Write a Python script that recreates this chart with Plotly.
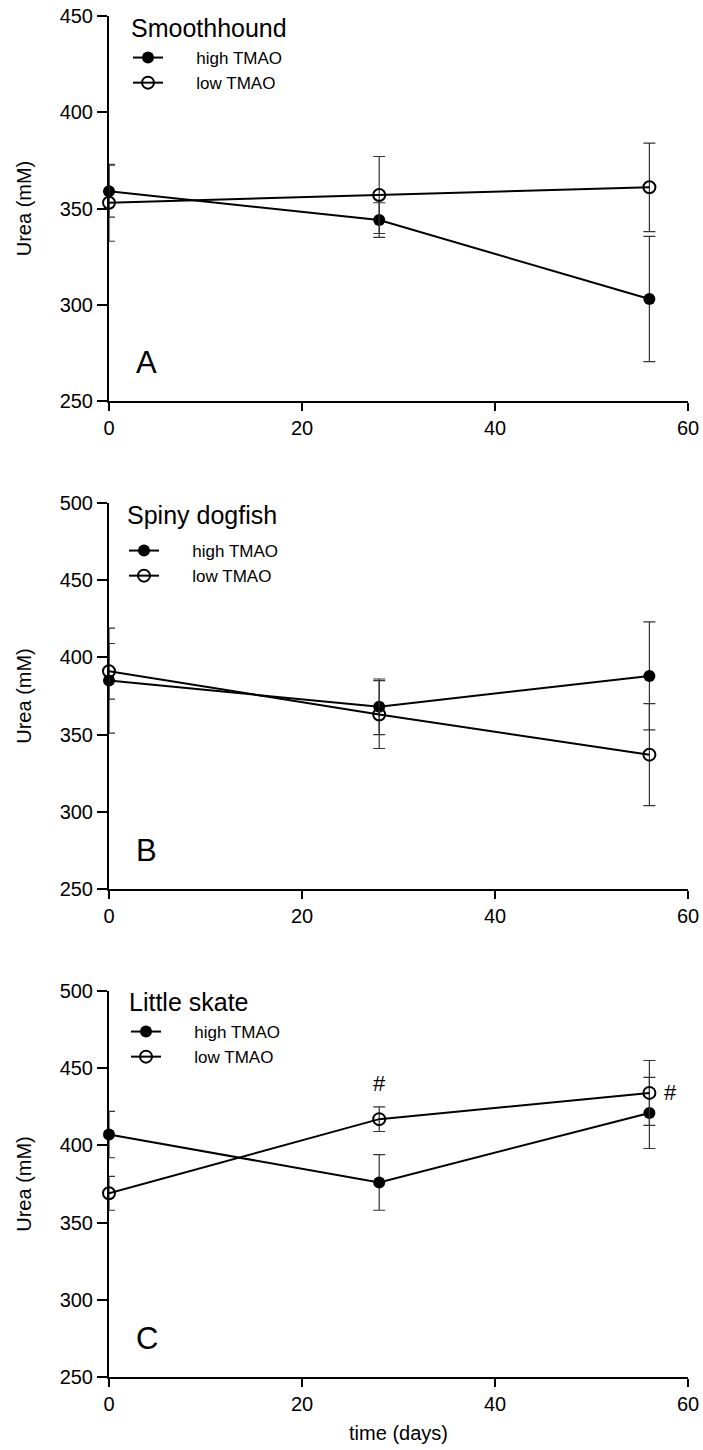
import plotly.graph_objects as go

# ---------------- data ----------------
days = [0, 28, 56]

smooth_high = [359, 344, 303]
smooth_high_err = [13.5, 9, 32.5]
smooth_low = [353, 357, 361]
smooth_low_err = [20, 20, 23]

dogfish_high = [385, 368, 388]
dogfish_high_err = [34, 18, 35]
dogfish_low = [391, 363, 337]
dogfish_low_err = [18, 22, 33]

skate_high = [407, 376, 421]
skate_high_err = [15, 18, 23]
skate_low = [369, 417, 434]
skate_low_err = [11, 8, 21]

species = ["Smoothhound", "Spiny dogfish", "Little skate"]
panel_letters = ["A", "B", "C"]
series_names = ["high TMAO", "low TMAO"]
y_ranges = [[250, 450], [250, 500], [250, 500]]
x_ticks = [0, 20, 40, 60]

# ---------------- layout helpers ----------------
W, H = 703, 1450
ML, MR, MT, MB = 109, 15, 16, 1450 - 1377
PW, PH = W - ML - MR, H - MT - MB


def py(ypx):
    """pixel y -> paper fraction"""
    return (H - MB - ypx) / PH


def pxx(xpx):
    """pixel x -> paper fraction"""
    return (xpx - ML) / PW


FONT = "Liberation Sans, Arial, sans-serif"
domains = [[py(401), py(16)], [py(889), py(503)], [py(1377), py(991)]]
title_pos = [(129, 28), (125, 515), (127, 1002)]
legend_pos = [(128, 40), (124, 533), (126, 1014)]

panels = [
    (smooth_high, smooth_high_err, smooth_low, smooth_low_err),
    (dogfish_high, dogfish_high_err, dogfish_low, dogfish_low_err),
    (skate_high, skate_high_err, skate_low, skate_low_err),
]

fig = go.Figure()
pad = "\u00a0" * 6

for i, (hi, hie, lo, loe) in enumerate(panels):
    sfx = "" if i == 0 else str(i + 1)
    leg = "legend" + sfx
    err_style = dict(type="data", color="#333333", thickness=1.2, width=6, visible=True)
    fig.add_trace(go.Scatter(
        x=days, y=hi, name=pad + series_names[0], mode="lines+markers",
        line=dict(color="black", width=2),
        marker=dict(symbol="circle", size=12, color="black"),
        error_y=dict(array=hie, **err_style),
        xaxis="x" + sfx, yaxis="y" + sfx, legend=leg, cliponaxis=False,
    ))
    fig.add_trace(go.Scatter(
        x=days, y=lo, name=pad + series_names[1], mode="lines+markers",
        line=dict(color="black", width=2),
        marker=dict(symbol="circle-open", size=12, color="black", line=dict(width=2, color="black")),
        error_y=dict(array=loe, **err_style),
        xaxis="x" + sfx, yaxis="y" + sfx, legend=leg, cliponaxis=False,
    ))

    axis_common = dict(showline=True, linewidth=2, linecolor="black", ticks="outside",
                       tickwidth=2, tickcolor="black", showgrid=False, zeroline=False,
                       automargin=False, ticklabeloverflow="allow",
                       tickfont=dict(family=FONT, size=20, color="black"))
    xa = dict(axis_common, range=[0, 60], tickvals=x_ticks, ticklen=8,
              domain=[0, 1], anchor="y" + sfx)
    if i == 2:
        xa["title"] = dict(text="time (days)", font=dict(family=FONT, size=20, color="black"),
                           standoff=12)
    ya = dict(axis_common, range=y_ranges[i], dtick=50, ticklen=10,
              domain=domains[i], anchor="x" + sfx,
              title=dict(text="Urea (mM)", font=dict(family=FONT, size=20, color="black"),
                         standoff=23))
    fig.layout["xaxis" + sfx] = xa
    fig.layout["yaxis" + sfx] = ya

    lx, ly = legend_pos[i]
    fig.layout[leg] = dict(
        x=pxx(lx), y=py(ly), xanchor="left", yanchor="top", xref="paper", yref="paper",
        bgcolor="rgba(0,0,0,0)", borderwidth=0,
        font=dict(family=FONT, size=17, color="black"),
        tracegroupgap=0, itemclick=False,
    )

    tx, ty = title_pos[i]
    fig.add_annotation(x=pxx(tx), y=py(ty), xref="paper", yref="paper",
                       xanchor="left", yanchor="middle", text=species[i], showarrow=False,
                       font=dict(family=FONT, size=25, color="black"))

    ylo = y_ranges[i][0]
    fig.add_annotation(x=3.9, y=ylo + 0.1 * (y_ranges[i][1] - ylo), xref="x" + sfx, yref="y" + sfx,
                       text=panel_letters[i], showarrow=False,
                       font=dict(family=FONT, size=31, color="black"))

# significance markers in panel C
fig.add_annotation(x=28, y=440, xref="x3", yref="y3", text="#", showarrow=False,
                   font=dict(family=FONT, size=22, color="black"))
fig.add_annotation(x=58.2, y=434, xref="x3", yref="y3", text="#", showarrow=False,
                   font=dict(family=FONT, size=22, color="black"))

fig.update_layout(
    width=W, height=H,
    margin=dict(l=ML, r=MR, t=MT, b=MB, autoexpand=False),
    plot_bgcolor="white", paper_bgcolor="white",
    font=dict(family=FONT, color="black"),
    showlegend=True,
)

# remove the default 8px body margin so the figure fills the window exactly
fig.write_html("out.html", config={"displayModeBar": False},
               post_script="document.body.style.margin='0';document.body.style.overflow='hidden';")
